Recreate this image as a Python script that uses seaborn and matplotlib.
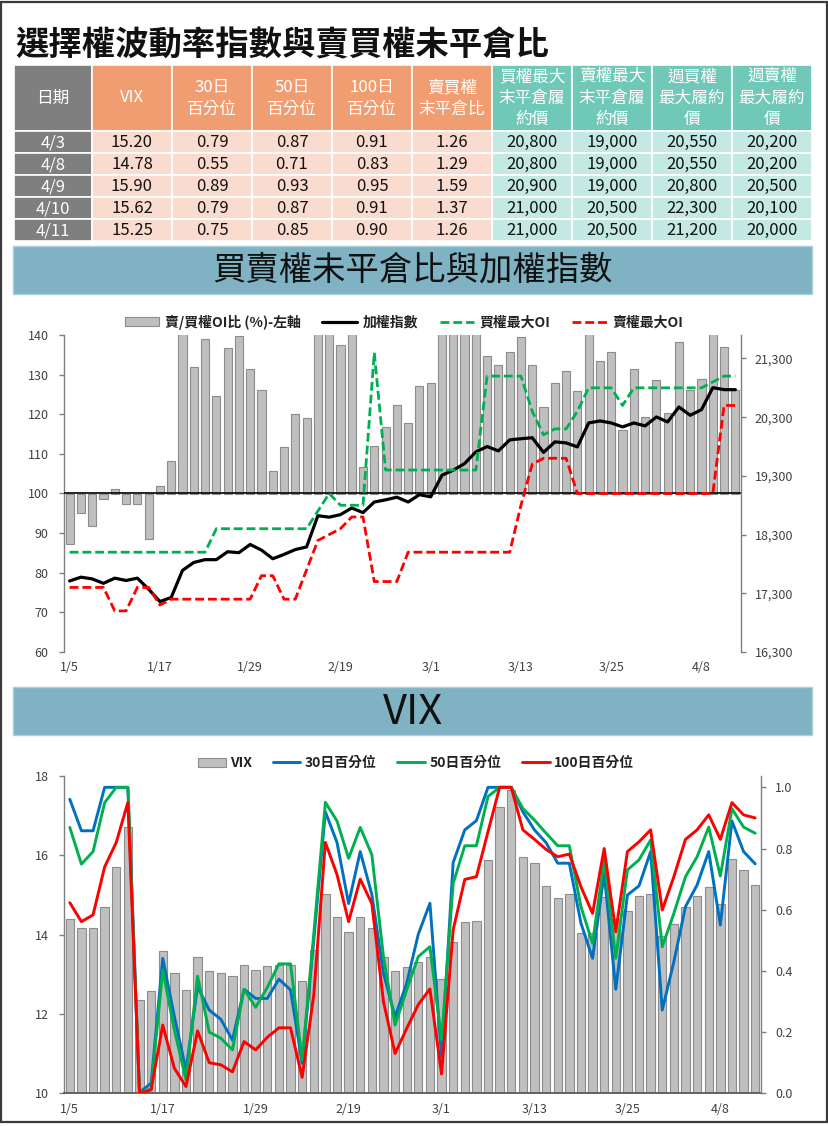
import numpy as np
import pandas as pd
import matplotlib
matplotlib.use("Agg")
import matplotlib.pyplot as plt
import seaborn as sns
from matplotlib.patches import Rectangle, Patch
from matplotlib.lines import Line2D
from matplotlib.ticker import FuncFormatter

# ---------------- data ----------------
dates = ["1/5", "1/8", "1/9", "1/10", "1/11", "1/12", "1/15", "1/16", "1/17", "1/18",
         "1/19", "1/22", "1/23", "1/24", "1/25", "1/26", "1/29", "1/30", "1/31", "2/1",
         "2/2", "2/5", "2/15", "2/16", "2/19", "2/20", "2/21", "2/22", "2/23", "2/26",
         "2/27", "2/29", "3/1", "3/4", "3/5", "3/6", "3/7", "3/8", "3/11", "3/12",
         "3/13", "3/14", "3/15", "3/18", "3/19", "3/20", "3/21", "3/22", "3/25", "3/26",
         "3/27", "3/28", "3/29", "4/1", "4/2", "4/3", "4/8", "4/9", "4/10", "4/11"]

# 賣/買權OI比 (%)
pcr_pct = [87.3, 95.0, 91.9, 98.5, 101.2, 97.4, 97.4, 88.4, 102.0, 108.3,
           146.0, 132.0, 139.0, 124.7, 136.8, 139.7, 131.5, 126.2, 105.6, 111.8,
           120.0, 119.1, 146.0, 148.0, 137.6, 145.0, 106.7, 112.0, 116.8, 122.4,
           117.9, 127.2, 128.0, 145.0, 147.0, 146.0, 144.0, 134.8, 132.5, 135.6,
           139.6, 132.5, 121.9, 128.0, 130.8, 125.8, 143.0, 133.5, 135.8, 115.9,
           131.5, 119.2, 128.7, 120.2, 138.3, 126.0, 129.0, 159.0, 137.0, 126.0]

# 加權指數
taiex = [17510, 17575, 17545, 17470, 17558, 17518, 17558, 17370, 17160, 17228,
         17690, 17825, 17873, 17873, 18008, 17992, 18132, 18036, 17889, 17962,
         18045, 18090, 18622, 18597, 18640, 18753, 18674, 18855, 18892, 18937,
         18855, 18980, 18943, 19312, 19397, 19510, 19709, 19800, 19726, 19913,
         19933, 19950, 19700, 19879, 19862, 19794, 20202, 20236, 20202, 20134,
         20202, 20151, 20304, 20219, 20474, 20332, 20428, 20803, 20769, 20769]

# 買權最大OI
call_max_oi = [18000, 18000, 18000, 18000, 18000, 18000, 18000, 18000, 18000, 18000,
               18000, 18000, 18000, 18400, 18400, 18400, 18400, 18400, 18400, 18400,
               18400, 18400, 18700, 19000, 18800, 18800, 18800, 21400, 19400, 19400,
               19400, 19400, 19400, 19400, 19400, 19400, 19400, 21000, 21000, 21000,
               21000, 20400, 20000, 20100, 20100, 20400, 20800, 20800, 20800, 20500,
               20800, 20800, 20800, 20800, 20800, 20800, 20800, 20900, 21000, 21000]

# 賣權最大OI
put_max_oi = [17400, 17400, 17400, 17400, 17000, 17000, 17400, 17400, 17100, 17200,
              17200, 17200, 17200, 17200, 17200, 17200, 17200, 17600, 17600, 17200,
              17200, 17700, 18200, 18300, 18400, 18600, 18600, 17500, 17500, 17500,
              18000, 18000, 18000, 18000, 18000, 18000, 18000, 18000, 18000, 18000,
              18800, 19500, 19600, 19600, 19600, 19000, 19000, 19000, 19000, 19000,
              19000, 19000, 19000, 19000, 19000, 19000, 19000, 19000, 20500, 20500]

# VIX
vix = [14.38, 14.16, 14.16, 14.69, 15.69, 16.70, 12.35, 12.57, 13.58, 13.02,
       12.60, 13.43, 13.08, 13.02, 12.96, 13.22, 13.11, 13.20, 13.23, 13.23,
       12.83, 13.60, 15.01, 14.43, 14.06, 14.43, 14.16, 13.43, 13.07, 13.17,
       13.30, 13.43, 12.87, 13.80, 14.32, 14.35, 15.87, 17.22, 17.64, 15.96,
       15.81, 15.21, 14.91, 15.01, 14.03, 14.03, 14.95, 14.40, 14.58, 14.97,
       15.01, 13.95, 14.27, 14.69, 14.98, 15.20, 14.78, 15.90, 15.62, 15.25]

# 30日 / 50日 / 100日 百分位
pct30 = [0.961, 0.858, 0.858, 1.0, 1.0, 1.0, 0.003, 0.033, 0.441, 0.251,
         0.076, 0.349, 0.272, 0.242, 0.174, 0.34, 0.31, 0.31, 0.373, 0.338,
         0.098, 0.50, 0.92, 0.82, 0.62, 0.79, 0.65, 0.392, 0.25, 0.36,
         0.52, 0.621, 0.12, 0.754, 0.861, 0.891, 1.0, 1.0, 1.0, 0.92,
         0.861, 0.819, 0.752, 0.752, 0.556, 0.441, 0.719, 0.34, 0.648, 0.678,
         0.79, 0.272, 0.43, 0.61, 0.681, 0.79, 0.55, 0.89, 0.79, 0.75]
pct50 = [0.869, 0.749, 0.79, 0.95, 1.0, 1.0, 0.002, 0.013, 0.403, 0.207,
         0.044, 0.383, 0.20, 0.18, 0.142, 0.34, 0.281, 0.346, 0.423, 0.423,
         0.109, 0.52, 0.951, 0.89, 0.768, 0.869, 0.78, 0.447, 0.223, 0.338,
         0.447, 0.479, 0.174, 0.686, 0.809, 0.809, 0.97, 1.0, 1.0, 0.931,
         0.893, 0.85, 0.809, 0.809, 0.61, 0.49, 0.763, 0.441, 0.73, 0.763,
         0.828, 0.479, 0.588, 0.708, 0.773, 0.87, 0.71, 0.93, 0.87, 0.85]
pct100 = [0.623, 0.561, 0.583, 0.74, 0.82, 0.951, 0.0, 0.011, 0.223, 0.082,
          0.022, 0.204, 0.10, 0.093, 0.07, 0.169, 0.142, 0.183, 0.214, 0.214,
          0.052, 0.32, 0.82, 0.715, 0.561, 0.70, 0.62, 0.30, 0.13, 0.212,
          0.29, 0.341, 0.063, 0.534, 0.699, 0.708, 0.855, 1.0, 1.0, 0.861,
          0.83, 0.797, 0.773, 0.782, 0.675, 0.588, 0.80, 0.528, 0.79, 0.822,
          0.861, 0.599, 0.708, 0.83, 0.861, 0.91, 0.83, 0.95, 0.91, 0.90]

# table
title = "選擇權波動率指數與賣買權未平倉比"
col_headers = ["日期", "VIX", "30日\n百分位", "50日\n百分位", "100日\n百分位", "賣買權\n末平倉比",
               "買權最大\n末平倉履\n約價", "賣權最大\n末平倉履\n約價", "週買權\n最大履約\n價", "週賣權\n最大履約\n價"]
table_dates = ["4/3", "4/8", "4/9", "4/10", "4/11"]
table_vix = ["15.20", "14.78", "15.90", "15.62", "15.25"]
table_p30 = ["0.79", "0.55", "0.89", "0.79", "0.75"]
table_p50 = ["0.87", "0.71", "0.93", "0.87", "0.85"]
table_p100 = ["0.91", "0.83", "0.95", "0.91", "0.90"]
table_pcr = ["1.26", "1.29", "1.59", "1.37", "1.26"]
table_call_oi = ["20,800", "20,800", "20,900", "21,000", "21,000"]
table_put_oi = ["19,000", "19,000", "19,000", "20,500", "20,500"]
table_wk_call = ["20,550", "20,550", "20,800", "22,300", "21,200"]
table_wk_put = ["20,200", "20,200", "20,500", "20,100", "20,000"]
section1 = "買賣權未平倉比與加權指數"
section2 = "VIX"
legend1 = ["賣/買權OI比 (%)-左軸", "加權指數", "買權最大OI", "賣權最大OI"]
legend2 = ["VIX", "30日百分位", "50日百分位", "100日百分位"]

# ---------------- style ----------------
sns.set_theme(style="white")
plt.rcParams["font.family"] = ["Noto Sans CJK TC", "DejaVu Sans"]
plt.rcParams["axes.unicode_minus"] = False

W, H = 829, 1126
fig = plt.figure(figsize=(W / 100, H / 100), dpi=100)
fig.patch.set_facecolor("white")

bg = fig.add_axes([0, 0, 1, 1])
bg.set_xlim(0, W)
bg.set_ylim(H, 0)
bg.axis("off")

# outer frame
bg.add_patch(Rectangle((1.5, 2), 825.5, 1120, fill=False, ec="#3a3a3a", lw=1.6))

# title
bg.text(15, 46, title, ha="left", va="center", fontsize=24, weight="bold", color="#111111")

# table
cols_x = [14, 92, 172, 252, 332, 412, 492, 572, 652, 732, 812]
rows_y = [65, 131, 153, 175, 197, 219, 241]
head_cols = ["#7F7F7F"] + ["#F09D72"] * 5 + ["#70C8B8"] * 4
body_cols = ["#7F7F7F"] + ["#FADBCF"] * 5 + ["#C4E9E2"] * 4
body = [table_dates, table_vix, table_p30, table_p50, table_p100, table_pcr,
        table_call_oi, table_put_oi, table_wk_call, table_wk_put]
line_pos = {1: [98], 2: [87.5, 109.5], 3: [76.5, 98, 119.5]}
for c in range(10):
    x0, x1 = cols_x[c], cols_x[c + 1]
    xc = (x0 + x1) / 2
    bg.add_patch(Rectangle((x0, rows_y[0]), x1 - x0, rows_y[1] - rows_y[0],
                           fc=head_cols[c], ec="white", lw=1.2))
    lines = col_headers[c].split("\n")
    for txt, yy in zip(lines, line_pos[len(lines)]):
        bg.text(xc, yy, txt, ha="center", va="center", fontsize=12, color="white")
    for r in range(5):
        y0, y1 = rows_y[r + 1], rows_y[r + 2]
        bg.add_patch(Rectangle((x0, y0), x1 - x0, y1 - y0, fc=body_cols[c], ec="white", lw=1.2))
        bg.text(xc, (y0 + y1) / 2 + 0.5, body[c][r], ha="center", va="center", fontsize=12,
                color="white" if c == 0 else "#111111")

# section bands
band_col = "#7FB3C3"
bg.add_patch(Rectangle((13, 246), 799, 48, fc=band_col, ec="#A9CFDA", lw=1))
bg.text(413, 270, section1, ha="center", va="center", fontsize=24, weight="normal", color="#111111")
bg.add_patch(Rectangle((13, 687), 799, 48, fc=band_col, ec="#A9CFDA", lw=1))
bg.text(413, 712, section2, ha="center", va="center", fontsize=30, weight="normal", color="#111111")


def ax_rect(x0, y0, x1, y1):
    return [x0 / W, 1 - y1 / H, (x1 - x0) / W, (y1 - y0) / H]


tick_col = "#404040"
spine_col = "#7F7F7F"
bar_face = "#BFBFBF"
bar_edge = "#8C8C8C"
pos = np.arange(len(dates))

# ---------------- chart 1 ----------------
df1 = pd.DataFrame({"date": dates, "pcr": pcr_pct})
df1["height"] = df1["pcr"] - 100
ax1 = fig.add_axes(ax_rect(64, 335, 741, 652))
ax1.set_facecolor("none")
sns.barplot(data=df1, x="date", y="height", bottom=100, color=bar_face, saturation=1,
            edgecolor=bar_edge, linewidth=0.8, width=0.72, errorbar=None, ax=ax1, zorder=2)
ax1.axhline(100, color="#111111", lw=1.3, zorder=3)
ax1.set_ylim(60, 140)
ax1.set_xlim(-0.5, len(dates) - 0.5)
ax1.set_yticks(np.arange(60, 141, 10))
ax1.set_xticks(pos[::8])
ax1.set_xticklabels([dates[i] for i in pos[::8]])
ax1.set_xlabel("")
ax1.set_ylabel("")
for s in ["top", "bottom", "right"]:
    ax1.spines[s].set_visible(False)
ax1.spines["left"].set_color(spine_col)
ax1.spines["left"].set_linewidth(1.0)
ax1.tick_params(axis="y", which="both", left=True, direction="out", length=3.5, width=1,
                color=spine_col, labelsize=9, labelcolor=tick_col, pad=7.5)
ax1.tick_params(axis="x", length=0, labelsize=9, labelcolor=tick_col, pad=6.5)

ax1b = ax1.twinx()
sns.lineplot(x=pos, y=taiex, ax=ax1b, color="#000000", lw=2.3, legend=False, zorder=5)
sns.lineplot(x=pos, y=call_max_oi, ax=ax1b, color="#00B050", lw=2.0,
             linestyle=(0, (3.2, 1.4)), legend=False, zorder=6)
sns.lineplot(x=pos, y=put_max_oi, ax=ax1b, color="#FF0000", lw=2.0,
             linestyle=(0, (3.2, 1.4)), legend=False, zorder=7)
ax1b.set_ylim(16300, 21700)
ax1b.set_yticks(np.arange(16300, 21301, 1000))
ax1b.yaxis.set_major_formatter(FuncFormatter(lambda v, p: f"{int(v):,}"))
ax1b.set_xlim(-0.5, len(dates) - 0.5)
ax1b.set_ylabel("")
for s in ["top", "bottom", "left"]:
    ax1b.spines[s].set_visible(False)
ax1b.spines["right"].set_color(spine_col)
ax1b.spines["right"].set_linewidth(1.0)
ax1b.tick_params(axis="y", which="both", right=True, direction="out", length=3.5, width=1,
                 color=spine_col, labelsize=9, labelcolor=tick_col, pad=6.5)

h1 = [Patch(facecolor=bar_face, edgecolor=bar_edge, lw=0.8),
      Line2D([], [], color="#000000", lw=2.3),
      Line2D([], [], color="#00B050", lw=2.0, ls=(0, (3.2, 1.4))),
      Line2D([], [], color="#FF0000", lw=2.0, ls=(0, (3.2, 1.4)))]
fig.legend(h1, legend1, loc="center", bbox_to_anchor=(404 / W, 1 - 322 / H), ncol=4,
           frameon=False, prop={"size": 10, "weight": "bold"}, handlelength=2.5,
           handleheight=0.6, handletextpad=0.4, columnspacing=1.55, labelcolor="#222222")

# ---------------- chart 2 ----------------
df2 = pd.DataFrame({"date": dates, "vix": vix})
ax2 = fig.add_axes(ax_rect(64, 775.7, 761, 1093.3))
ax2.set_facecolor("none")
sns.barplot(data=df2, x="date", y="vix", color=bar_face, saturation=1, edgecolor=bar_edge,
            linewidth=0.8, width=0.72, errorbar=None, ax=ax2, zorder=2)
ax2.set_ylim(10, 18)
ax2.set_xlim(-0.5, len(dates) - 0.5)
ax2.set_yticks(np.arange(10, 18.1, 2))
ax2.set_xticks(pos[::8])
ax2.set_xticklabels([dates[i] for i in pos[::8]])
ax2.set_xlabel("")
ax2.set_ylabel("")
for s in ["top", "right"]:
    ax2.spines[s].set_visible(False)
for s in ["left", "bottom"]:
    ax2.spines[s].set_color("#595959" if s == "bottom" else spine_col)
    ax2.spines[s].set_linewidth(1.3 if s == "bottom" else 1.0)
ax2.tick_params(axis="y", which="both", left=True, direction="out", length=3.5, width=1,
                color=spine_col, labelsize=9, labelcolor=tick_col, pad=7.5)
ax2.tick_params(axis="x", length=0, labelsize=9, labelcolor=tick_col, pad=7)

ax2b = ax2.twinx()
sns.lineplot(x=pos, y=pct30, ax=ax2b, color="#0070C0", lw=2.1, legend=False)
sns.lineplot(x=pos, y=pct50, ax=ax2b, color="#00B050", lw=2.1, legend=False)
sns.lineplot(x=pos, y=pct100, ax=ax2b, color="#FF0000", lw=2.1, legend=False)
ax2b.set_ylim(0, 1.038)
ax2b.set_yticks(np.arange(0, 1.01, 0.2))
ax2b.yaxis.set_major_formatter(FuncFormatter(lambda v, p: f"{v:.1f}"))
ax2b.set_xlim(-0.5, len(dates) - 0.5)
ax2b.set_ylabel("")
for s in ["top", "bottom", "left"]:
    ax2b.spines[s].set_visible(False)
ax2b.spines["right"].set_color(spine_col)
ax2b.spines["right"].set_linewidth(1.0)
ax2b.tick_params(axis="y", which="both", right=True, direction="out", length=3.5, width=1,
                 color=spine_col, labelsize=9, labelcolor=tick_col, pad=6.5)

h2 = [Patch(facecolor=bar_face, edgecolor=bar_edge, lw=0.8),
      Line2D([], [], color="#0070C0", lw=2.1),
      Line2D([], [], color="#00B050", lw=2.1),
      Line2D([], [], color="#FF0000", lw=2.1)]
fig.legend(h2, legend2, loc="center", bbox_to_anchor=(416 / W, 1 - 763 / H), ncol=4,
           frameon=False, prop={"size": 10, "weight": "bold"}, handlelength=2.0,
           handleheight=0.6, handletextpad=0.3, columnspacing=1.5, labelcolor="#222222")

fig.savefig("out.png", dpi=100, facecolor="white")
